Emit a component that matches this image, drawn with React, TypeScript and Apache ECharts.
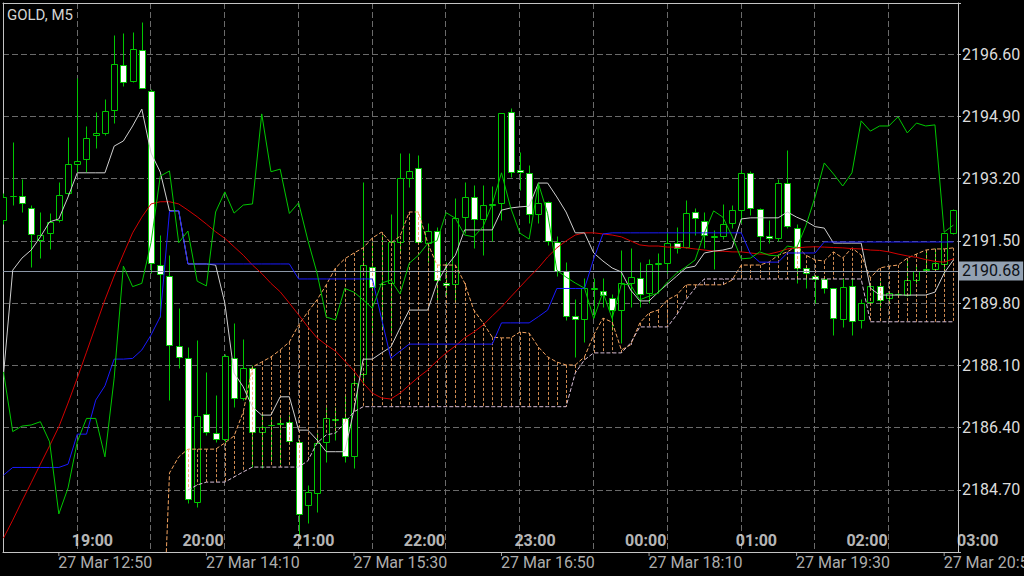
import React, { useEffect, useRef } from "react";
import * as echarts from "echarts";

// ---------- chart values ----------
const TITLE = "GOLD, M5";
const BASE_PRICE = 2183.0; // price at the bottom edge of the plot
const TOP_PRICE = 2198.0; // price at the top edge of the plot
const PRICE_STEP = 1.7;
const LABEL_BAR = 6; // index of the 27 Mar 12:50 bar
const FIRST_VISIBLE = -0.054;
const LAST_VISIBLE = 103.5;
const GRID_BARS = 8;

const xTickLabels = [
  "27 Mar 12:50",
  "27 Mar 14:10",
  "27 Mar 15:30",
  "27 Mar 16:50",
  "27 Mar 18:10",
  "27 Mar 19:30",
  "27 Mar 20:50",
];
const xTickBars = [6, 22, 38, 54, 70, 86, 102];
const hourLabels = ["19:00", "20:00", "21:00", "22:00", "23:00", "00:00", "01:00", "02:00", "03:00"];
const hourLabelBars = [8, 20, 32, 44, 56, 68, 80, 92, 104];
const currentPrice = 2190.68;

// [open, close, low, high]
const candles: number[][] = [
  [2192.07, 2192.71, 2191.95, 2192.8], [2192.72, 2192.74, 2192.48, 2194.21], [2192.73, 2192.54, 2192.3, 2193.18],
  [2192.41, 2191.68, 2190.8, 2192.48], [2191.52, 2191.66, 2191.02, 2192.3], [2191.71, 2192.02, 2191.27, 2192.25],
  [2192.07, 2192.75, 2192.02, 2193.12], [2192.8, 2193.6, 2192.75, 2194.35], [2193.59, 2193.68, 2193.39, 2195.96],
  [2193.73, 2194.32, 2193.39, 2194.64], [2194.39, 2194.44, 2194.03, 2195.03], [2194.44, 2195.05, 2194.39, 2195.38],
  [2195.08, 2196.33, 2194.71, 2197.13], [2196.31, 2195.83, 2195.74, 2197.17], [2195.87, 2196.73, 2195.85, 2197.22],
  [2196.72, 2195.67, 2195.67, 2197.49], [2195.6, 2190.89, 2190.62, 2195.64], [2190.84, 2190.6, 2189.43, 2191.66],
  [2190.55, 2188.66, 2187.15, 2191.11], [2188.64, 2188.34, 2188.03, 2189.66], [2188.29, 2184.44, 2184.33, 2188.61],
  [2184.36, 2186.72, 2184.24, 2188.79], [2186.76, 2186.27, 2186.2, 2187.93], [2186.26, 2186.09, 2186.01, 2187.29],
  [2186.08, 2188.36, 2186.01, 2188.4], [2188.31, 2187.22, 2186.95, 2189.25], [2187.22, 2188.02, 2187.15, 2188.81],
  [2188.02, 2186.29, 2185.33, 2188.1], [2186.29, 2186.42, 2185.29, 2186.79], [2186.46, 2186.48, 2185.5, 2186.65],
  [2186.51, 2186.53, 2185.4, 2186.7], [2186.56, 2186.04, 2185.95, 2186.75], [2186.0, 2184.03, 2183.46, 2186.1],
  [2184.28, 2184.63, 2183.78, 2184.83], [2184.62, 2185.97, 2184.1, 2186.24], [2186.01, 2186.65, 2185.47, 2186.97],
  [2186.62, 2186.64, 2186.05, 2186.95], [2186.67, 2185.62, 2185.47, 2187.29], [2185.63, 2187.61, 2185.29, 2187.88],
  [2187.86, 2190.84, 2187.56, 2193.12], [2190.78, 2190.25, 2188.98, 2191.48], [2190.31, 2190.33, 2189.07, 2191.66],
  [2190.34, 2191.46, 2188.98, 2192.23], [2191.48, 2193.21, 2191.16, 2193.91], [2193.21, 2193.41, 2192.96, 2193.9],
  [2193.5, 2191.48, 2191.46, 2193.85], [2191.43, 2191.78, 2190.93, 2191.98], [2191.78, 2190.43, 2189.89, 2191.89],
  [2190.36, 2190.3, 2190.02, 2190.93], [2190.32, 2192.12, 2189.84, 2192.66], [2192.16, 2192.69, 2191.71, 2193.12],
  [2192.69, 2192.09, 2191.3, 2193.03], [2192.09, 2192.47, 2191.11, 2193.03], [2192.49, 2192.51, 2191.5, 2193.0],
  [2192.53, 2194.99, 2192.07, 2195.0], [2195.01, 2193.37, 2193.25, 2195.12], [2193.44, 2193.39, 2192.89, 2193.94],
  [2193.35, 2192.23, 2191.98, 2193.57], [2192.23, 2192.53, 2191.98, 2193.12], [2192.55, 2191.5, 2191.4, 2192.6],
  [2191.46, 2190.69, 2190.55, 2191.63], [2190.69, 2189.46, 2189.34, 2190.93], [2189.46, 2189.37, 2188.34, 2189.9],
  [2189.36, 2190.2, 2188.75, 2190.48], [2190.18, 2190.2, 2189.43, 2190.48], [2190.14, 2190.02, 2189.7, 2190.48],
  [2189.95, 2189.61, 2189.07, 2190.05], [2189.61, 2190.34, 2188.7, 2191.25], [2190.34, 2190.52, 2189.7, 2191.3],
  [2190.48, 2190.05, 2189.7, 2190.93], [2190.07, 2190.86, 2189.8, 2191.0], [2190.87, 2190.89, 2190.07, 2191.16],
  [2190.9, 2191.45, 2190.61, 2191.75], [2191.45, 2191.31, 2191.16, 2191.89], [2191.34, 2192.25, 2191.3, 2192.62],
  [2192.3, 2192.12, 2191.66, 2192.39], [2192.05, 2191.66, 2191.3, 2192.3], [2191.62, 2191.64, 2190.72, 2191.8],
  [2191.63, 2191.96, 2191.55, 2192.5], [2191.98, 2192.34, 2191.85, 2192.47], [2192.34, 2193.36, 2191.98, 2193.44],
  [2193.36, 2192.39, 2192.2, 2193.4], [2192.36, 2191.63, 2191.25, 2192.4], [2191.63, 2191.57, 2191.43, 2192.07],
  [2191.57, 2193.07, 2191.5, 2193.18], [2193.07, 2191.91, 2191.85, 2193.98], [2191.86, 2190.77, 2190.34, 2191.95],
  [2190.75, 2190.61, 2190.2, 2190.8], [2190.55, 2190.46, 2189.8, 2190.58], [2190.46, 2190.2, 2190.07, 2190.5],
  [2190.2, 2189.38, 2188.93, 2190.22], [2189.36, 2190.23, 2189.16, 2190.48], [2190.27, 2189.3, 2188.93, 2190.5],
  [2189.34, 2189.81, 2189.11, 2189.9], [2189.84, 2190.27, 2189.8, 2190.35], [2190.27, 2189.89, 2189.7, 2190.4],
  [2189.93, 2190.07, 2189.85, 2190.1], [2190.05, 2190.06, 2190.0, 2190.1], [2190.02, 2190.43, 2190.0, 2190.98],
  [2190.43, 2190.69, 2190.35, 2190.85], [2190.71, 2190.72, 2190.7, 2191.25], [2190.72, 2190.89, 2190.7, 2191.3],
  [2190.86, 2191.71, 2190.62, 2191.74], [2191.71, 2192.34, 2191.68, 2192.36],
];

const chikouSpan = [
  2187.92, 2186.29, 2186.44, 2186.47, 2186.56, 2186.01, 2184.04, 2184.75, 2186.01, 2186.65,
  2186.65, 2185.6, 2187.75, 2190.81, 2190.25, 2190.34, 2191.46, 2193.27, 2193.41, 2191.45,
  2191.77, 2190.4, 2190.27, 2192.29, 2192.84, 2192.26, 2192.48, 2192.51, 2194.97, 2193.39,
  2193.46, 2192.25, 2192.54, 2191.52, 2190.62, 2189.42, 2189.34, 2190.2, 2190.1, 2189.89,
  2189.66, 2190.35, 2190.43, 2190.05, 2190.89, 2191.11, 2191.43, 2191.5, 2192.27, 2192.12,
  2191.66, 2191.61, 2191.89, 2192.51, 2193.36, 2192.4, 2191.71, 2191.55, 2193.07, 2192.25,
  2190.7, 2190.51, 2190.35, 2190.21, 2189.38, 2190.1, 2189.38, 2190.32, 2190.3, 2189.89,
  2189.99, 2190.08, 2190.38, 2190.62, 2190.79, 2190.98, 2191.72, 2192.32, 2192.15, 2191.63,
  2191.01, 2191.03, 2191.2, 2191.11, 2191.09, 2191.36, 2191.31, 2191.91, 2192.7, 2193.63,
  2193.33, 2193.0, 2193.36, 2194.78, 2194.5, 2194.64, 2194.64, 2194.89, 2194.45, 2194.72,
  2194.64, 2194.67, 2191.74, 2191.93,
];

const tenkanSen = [
  2187.84, 2190.7, 2191.03, 2191.25, 2191.61, 2192.02, 2192.1, 2192.7, 2193.36, 2193.36,
  2193.36, 2193.36, 2194.09, 2194.23, 2194.64, 2195.1, 2193.9, 2193.38, 2192.32, 2192.32,
  2190.87, 2190.87, 2190.87, 2190.84, 2189.8, 2187.89, 2187.51, 2186.96, 2186.74, 2186.74,
  2187.24, 2187.24, 2186.33, 2186.33, 2186.06, 2185.74, 2185.74, 2185.74, 2186.88, 2188.27,
  2188.27, 2188.44, 2188.6, 2189.12, 2189.61, 2189.61, 2189.61, 2190.35, 2190.79, 2191.11,
  2191.8, 2191.8, 2191.8, 2191.8, 2192.34, 2192.4, 2192.43, 2192.45, 2193.08, 2193.08,
  2192.7, 2192.29, 2191.72, 2191.72, 2191.17, 2190.95, 2190.76, 2190.65, 2190.16, 2189.86,
  2189.86, 2190.1, 2190.32, 2190.54, 2190.76, 2190.81, 2191.17, 2191.22, 2191.25, 2191.31,
  2192.1, 2192.13, 2192.13, 2192.13, 2192.13, 2192.29, 2192.15, 2192.04, 2191.89, 2191.85,
  2191.44, 2191.44, 2191.44, 2191.44, 2190.21, 2190.02, 2190.02, 2190.02, 2190.02, 2190.02,
  2190.02, 2190.1, 2190.62, 2190.98,
];

const kijunSen = [
  2185.1, 2185.31, 2185.31, 2185.31, 2185.31, 2185.31, 2185.31, 2185.4, 2186.22, 2186.22,
  2187.15, 2187.54, 2188.27, 2188.27, 2188.29, 2188.52, 2188.93, 2189.43, 2192.3, 2192.33,
  2190.87, 2190.87, 2190.87, 2190.87, 2190.87, 2190.87, 2190.87, 2190.87, 2190.87, 2190.87,
  2190.87, 2190.87, 2190.46, 2190.46, 2190.46, 2190.46, 2190.46, 2190.46, 2190.46, 2190.46,
  2190.46, 2189.37, 2188.29, 2188.49, 2188.68, 2188.68, 2188.68, 2188.68, 2188.68, 2188.68,
  2188.68, 2188.68, 2188.68, 2188.68, 2189.26, 2189.26, 2189.26, 2189.26, 2189.43, 2189.61,
  2190.2, 2190.2, 2190.2, 2190.2, 2191.01, 2191.69, 2191.72, 2191.72, 2191.72, 2191.72,
  2191.72, 2191.72, 2191.72, 2191.72, 2191.72, 2191.72, 2191.72, 2191.72, 2191.72, 2191.72,
  2191.72, 2191.14, 2190.92, 2190.92, 2190.92, 2191.17, 2191.17, 2191.17, 2191.17, 2191.47,
  2191.47, 2191.47, 2191.47, 2191.47, 2191.47, 2191.47, 2191.47, 2191.47, 2191.47, 2191.47,
  2191.47, 2191.47, 2191.47, 2191.47,
];

const movingAverage = [
  2183.38, 2183.87, 2184.39, 2184.89, 2185.4, 2185.9, 2186.42, 2187.07, 2187.75, 2188.46,
  2189.18, 2189.89, 2190.54, 2191.14, 2191.72, 2192.15, 2192.51, 2192.57, 2192.57, 2192.51,
  2192.34, 2192.16, 2191.96, 2191.75, 2191.57, 2191.34, 2191.11, 2190.84, 2190.61, 2190.34,
  2190.11, 2189.8, 2189.48, 2189.15, 2188.85, 2188.66, 2188.49, 2188.22, 2187.95, 2187.62,
  2187.34, 2187.21, 2187.18, 2187.34, 2187.56, 2187.78, 2187.97, 2188.22, 2188.44, 2188.63,
  2188.85, 2189.01, 2189.2, 2189.45, 2189.69, 2189.97, 2190.24, 2190.51, 2190.76, 2191.06,
  2191.31, 2191.5, 2191.66, 2191.72, 2191.72, 2191.69, 2191.66, 2191.61, 2191.5, 2191.39,
  2191.36, 2191.36, 2191.33, 2191.33, 2191.31, 2191.28, 2191.25, 2191.22, 2191.22, 2191.2,
  2191.2, 2191.17, 2191.14, 2191.14, 2191.2, 2191.28, 2191.31, 2191.33, 2191.34, 2191.33,
  2191.32, 2191.31, 2191.29, 2191.28, 2191.25, 2191.24, 2191.2, 2191.14, 2191.09, 2191.05,
  2190.99, 2190.94, 2190.92, 2191.01,
];

const spanAFirstBar = 17;
const senkouSpanA = [
  2178.9, 2185.16, 2185.6, 2185.81, 2185.81, 2185.81, 2185.81, 2185.98, 2186.17, 2186.83,
  2188.06, 2188.19, 2188.33, 2188.52, 2188.74, 2189.2, 2189.56, 2189.89, 2190.3, 2190.76,
  2191.01, 2191.17, 2191.31, 2191.58, 2191.74, 2191.44, 2191.63, 2192.29, 2192.29, 2191.44,
  2190.84, 2190.84, 2190.84, 2190.35, 2189.61, 2189.26, 2188.87, 2188.85, 2188.85, 2189.01,
  2188.98, 2188.6, 2188.33, 2188.19, 2188.11, 2188.11, 2188.33, 2188.93, 2189.39, 2189.28,
  2188.52, 2188.66, 2189.26, 2189.53, 2189.61, 2189.89, 2190.02, 2190.3, 2190.3, 2190.3,
  2190.3, 2190.3, 2190.43, 2190.84, 2190.84, 2190.84, 2190.92, 2191.11, 2191.2, 2191.36,
  2191.11, 2190.98, 2190.95, 2191.2, 2191.03, 2191.31, 2191.11, 2190.49, 2190.76, 2190.81,
  2190.84, 2191.03, 2191.14, 2191.25, 2191.28, 2191.28, 2191.31,
];

const spanBFirstBar = 20;
const senkouSpanB = [
  2184.69, 2184.83, 2184.91, 2184.91, 2184.91, 2185.05, 2185.19, 2185.32, 2185.32, 2185.32,
  2185.32, 2185.32, 2185.32, 2185.49, 2185.98, 2186.2, 2186.25, 2186.53, 2186.83, 2186.97,
  2186.97, 2186.97, 2186.97, 2186.97, 2186.97, 2186.97, 2186.97, 2186.97, 2186.97, 2186.97,
  2186.97, 2186.97, 2186.97, 2186.97, 2186.97, 2186.97, 2186.97, 2186.97, 2186.97, 2186.97,
  2186.97, 2186.97, 2187.89, 2188.25, 2188.44, 2188.44, 2188.44, 2188.44, 2188.71, 2189.15,
  2189.15, 2189.15, 2189.15, 2189.48, 2189.89, 2190.21, 2190.46, 2190.46, 2190.46, 2190.46,
  2190.46, 2190.46, 2190.46, 2190.46, 2190.46, 2190.46, 2190.46, 2190.46, 2190.46, 2190.46,
  2190.46, 2190.46, 2190.46, 2190.46, 2189.29, 2189.29, 2189.29, 2189.29, 2189.29, 2189.29,
  2189.29, 2189.29, 2189.29, 2189.29,
];

// ---------- styles ----------
const GREEN = "#00c800";
const FRAME = "#c4c4c4";
const GRID = "#6a6a6a";
const TEXT = "#dcdcdc";
const SANDY = "#f4a460";
const THISTLE = "#d8bfd8";
const FONT = "Roboto";

const xv = (bar: number) => bar - LABEL_BAR;
const yv = (price: number) => price - BASE_PRICE;
const lineData = (vals: number[], first = 0) => vals.map((v, i) => [xv(first + i), yv(v)]);

function buildOption(): any {
  const yMax = yv(TOP_PRICE);
  const gridLine = {
    show: true,
    showMinLine: false,
    showMaxLine: false,
    lineStyle: { color: GRID, width: 1, type: [6, 3] },
  };
  const axisText = { color: TEXT, fontSize: 16, fontFamily: FONT };

  const hatch: number[][] = [];
  senkouSpanB.forEach((b, i) => {
    const bar = spanBFirstBar + i;
    const a = senkouSpanA[bar - spanAFirstBar];
    if (a !== undefined) hatch.push([xv(bar), yv(a), yv(b)]);
  });

  const plainLine = (name: string, data: number[][], color: string, z: number, dashed = false) => ({
    name,
    type: "line",
    data,
    z,
    symbol: "none",
    showSymbol: false,
    silent: true,
    clip: true,
    lineStyle: { color, width: 1, type: dashed ? [4, 2] : "solid" },
    emphasis: { disabled: true },
  });

  const textScatter = (name: string, names: string[], bars: number[], label: any) => ({
    name,
    type: "scatter",
    clip: false,
    silent: true,
    z: 8,
    symbol: "rect",
    symbolSize: 1,
    itemStyle: { color: "rgba(0,0,0,0)" },
    emphasis: { disabled: true },
    data: names.map((t, i) => ({ name: t, value: [xv(bars[i]), 0] })),
    label: { show: true, formatter: "{b}", align: "left", verticalAlign: "middle", ...label },
  });

  return {
    animation: false,
    backgroundColor: "#000000",
    title: {
      text: TITLE,
      left: 7,
      top: 7,
      padding: 0,
      textStyle: { color: "#d4d4d4", fontSize: 15, fontWeight: "normal", fontFamily: FONT },
    },
    grid: { left: 3, right: 66, top: 3, bottom: 24, containLabel: false },
    xAxis: [
      {
        type: "value",
        position: "bottom",
        min: xv(FIRST_VISIBLE),
        max: xv(LAST_VISIBLE),
        interval: GRID_BARS,
        axisLine: { show: true, onZero: false, lineStyle: { color: FRAME, width: 1 } },
        axisTick: { show: false },
        axisLabel: { show: false },
        splitLine: gridLine,
      },
      {
        type: "value",
        position: "top",
        min: xv(FIRST_VISIBLE),
        max: xv(LAST_VISIBLE),
        axisLine: { show: true, onZero: false, lineStyle: { color: FRAME, width: 1 } },
        axisTick: { show: false },
        axisLabel: { show: false },
        splitLine: { show: false },
      },
    ],
    yAxis: [
      {
        type: "value",
        position: "right",
        min: 0,
        max: yMax,
        interval: PRICE_STEP,
        axisLine: { show: true, onZero: false, lineStyle: { color: FRAME, width: 1 } },
        axisTick: { show: true, length: 3, lineStyle: { color: FRAME } },
        axisLabel: {
          ...axisText,
          margin: 4,
          formatter: (v: number) => (v <= 1e-6 || v >= yMax - 1e-6 ? "" : (v + BASE_PRICE).toFixed(2)),
        },
        splitLine: gridLine,
      },
      {
        type: "value",
        position: "left",
        min: 0,
        max: yMax,
        axisLine: { show: true, onZero: false, lineStyle: { color: FRAME, width: 1 } },
        axisTick: { show: false },
        axisLabel: { show: false },
        splitLine: { show: false },
      },
    ],
    series: [
      {
        name: "GOLD",
        type: "custom",
        clip: true,
        z: 2,
        silent: true,
        data: candles.map((c, k) => [xv(k), yv(c[0]), yv(c[1]), yv(c[2]), yv(c[3])]),
        encode: { x: 0, y: [1, 2, 3, 4] },
        renderItem: (_p: any, api: any) => {
          const x = api.value(0);
          const o = api.value(1);
          const c = api.value(2);
          const pO = api.coord([x, o]);
          const pC = api.coord([x, c]);
          const pL = api.coord([x, api.value(3)]);
          const pH = api.coord([x, api.value(4)]);
          const cx = Math.round(pO[0]) + 0.5;
          const top = Math.round(Math.min(pO[1], pC[1])) + 0.5;
          const bot = Math.max(top, Math.round(Math.max(pO[1], pC[1])) + 0.5);
          const bull = c >= o;
          return {
            type: "group",
            children: [
              {
                type: "line",
                shape: { x1: cx, y1: Math.round(pH[1]) + 0.5, x2: cx, y2: Math.round(pL[1]) + 0.5 },
                style: { stroke: GREEN, lineWidth: 1 },
              },
              {
                type: "rect",
                shape: { x: cx - 3, y: top, width: 6, height: bot - top },
                style: { fill: bull ? "#000000" : "#ffffff", stroke: GREEN, lineWidth: 1 },
              },
            ],
          };
        },
      },
      {
        name: "Kumo",
        type: "custom",
        clip: true,
        z: 3,
        silent: true,
        data: hatch,
        encode: { x: 0, y: [1, 2] },
        renderItem: (_p: any, api: any) => {
          const x = api.value(0);
          const a = api.value(1);
          const b = api.value(2);
          const pa = api.coord([x, a]);
          const pb = api.coord([x, b]);
          const cx = Math.round(pa[0]) + 0.5;
          return {
            type: "line",
            shape: { x1: cx, y1: pa[1], x2: cx, y2: pb[1] },
            style: { stroke: a >= b ? SANDY : THISTLE, lineWidth: 1, lineDash: [3, 2], opacity: 0.85 },
          };
        },
      },
      plainLine("Senkou Span A", lineData(senkouSpanA, spanAFirstBar), SANDY, 4, true),
      plainLine("Senkou Span B", lineData(senkouSpanB, spanBFirstBar), THISTLE, 4, true),
      {
        ...plainLine("MA", lineData(movingAverage), "#d40000", 5),
        markLine: {
          silent: true,
          symbol: ["none", "none"],
          animation: false,
          emphasis: { disabled: true },
          lineStyle: { color: "#8c98a8", width: 1, type: "solid" },
          label: {
            show: true,
            position: "end",
            distance: 1,
            formatter: currentPrice.toFixed(2),
            color: "#0c1016",
            backgroundColor: "#93a1b2",
            padding: [2, 3, 1, 3],
            fontSize: 16,
            fontFamily: FONT,
          },
          data: [{ yAxis: yv(currentPrice) }],
        },
      },
      plainLine("Tenkan-sen", lineData(tenkanSen), "#cfcfcf", 5),
      plainLine("Kijun-sen", lineData(kijunSen), "#1a1aff", 6),
      plainLine("Chikou Span", lineData(chikouSpan), GREEN, 7),
      textScatter("Hours", hourLabels, hourLabelBars, {
        position: [-5, -11],
        color: "#e8e8e8",
        fontSize: 16,
        fontWeight: "bold",
        fontFamily: FONT,
      }),
      textScatter("Time axis", xTickLabels, xTickBars, {
        position: [0, 11],
        color: TEXT,
        fontSize: 16,
        fontFamily: FONT,
      }),
      {
        name: "Time ticks",
        type: "scatter",
        clip: false,
        silent: true,
        z: 8,
        symbol: "rect",
        symbolSize: [1, 4],
        symbolOffset: [0, 2],
        itemStyle: { color: FRAME },
        emphasis: { disabled: true },
        data: xTickBars.map((b) => [xv(b), 0]),
      },
    ],
  };
}

export default function App() {
  const ref = useRef<HTMLDivElement | null>(null);
  useEffect(() => {
    if (!ref.current) return;
    const chart = echarts.init(ref.current, undefined, { renderer: "svg" });
    chart.setOption(buildOption());
    return () => chart.dispose();
  }, []);
  return (
    <div
      ref={ref}
      style={{ position: "fixed", left: 0, top: 0, width: 1024, height: 576, background: "#000" }}
    />
  );
}
